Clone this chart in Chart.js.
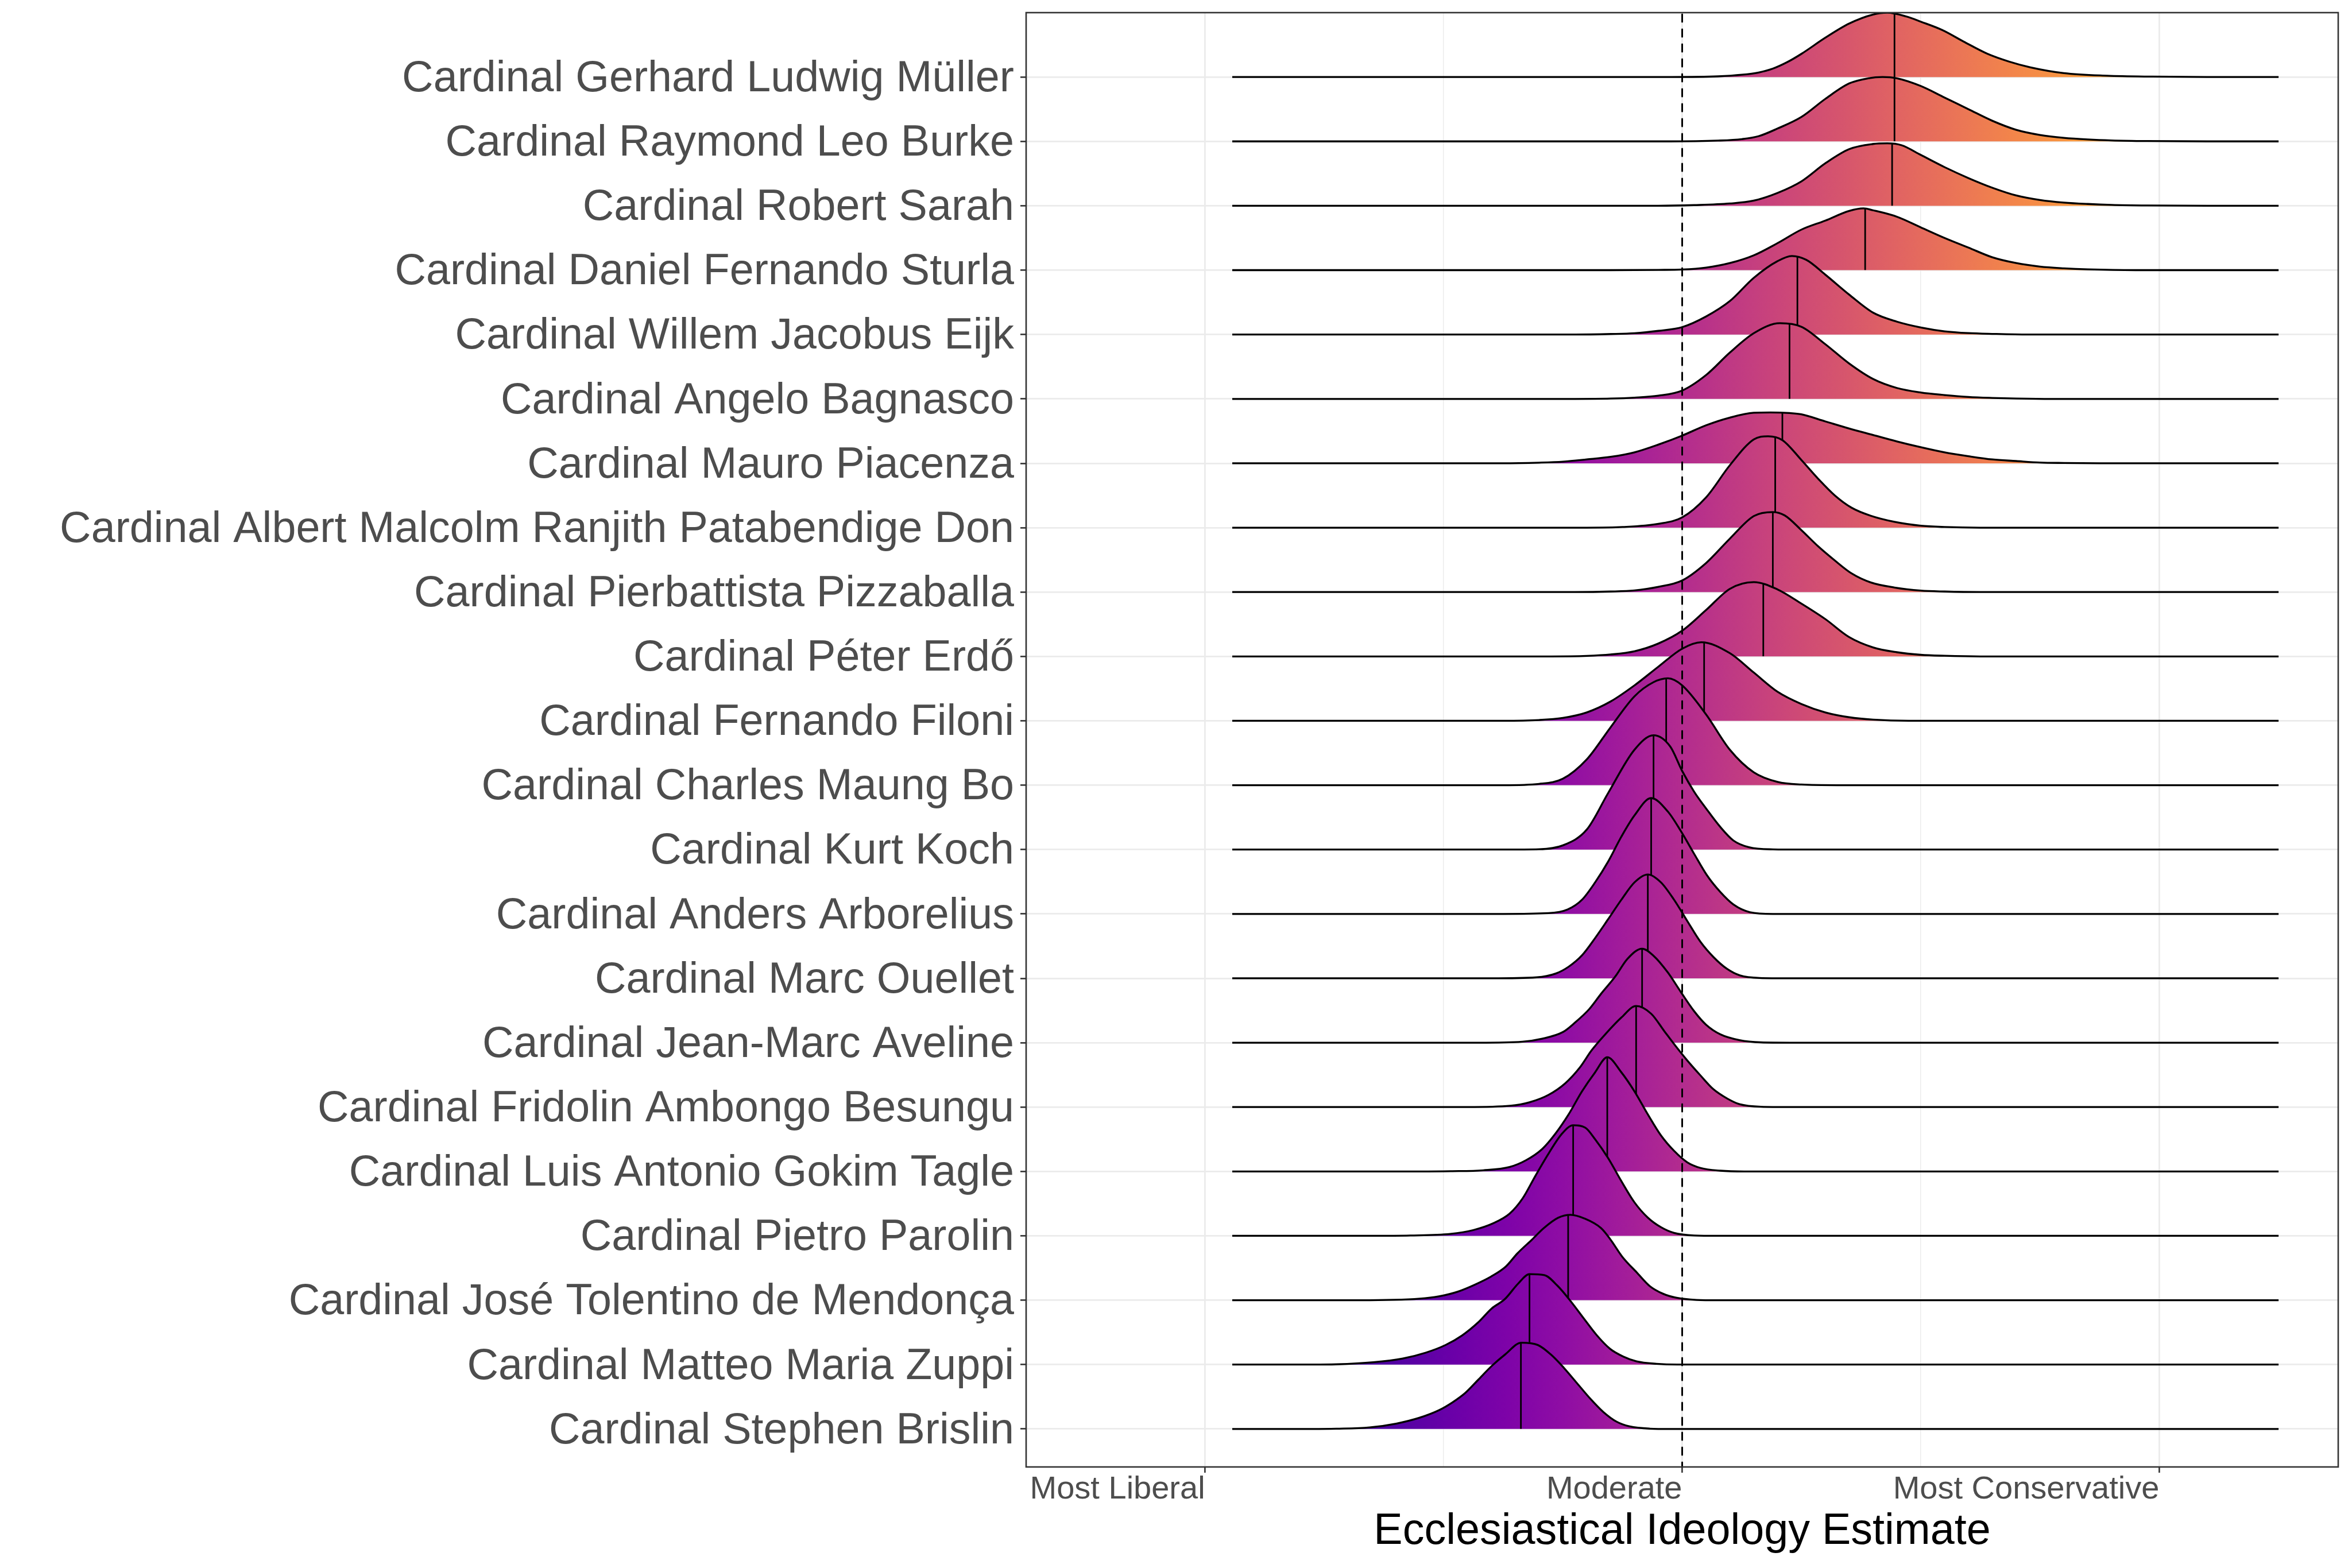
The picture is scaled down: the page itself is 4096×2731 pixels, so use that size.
<!DOCTYPE html>
<html><head><meta charset="utf-8">
<style>html,body{margin:0;padding:0;background:#fff;}#wrap{width:4096px;height:2731px;}</style>
<script src="https://cdn.jsdelivr.net/npm/chart.js@4.4.0/dist/chart.umd.min.js"></script>
</head><body><div id="wrap"><canvas id="c" width="4096" height="2731"></canvas></div>
<script>
// ---------- data (top row first) ----------
const cardinals = [
  'Cardinal Gerhard Ludwig Müller', 'Cardinal Raymond Leo Burke', 'Cardinal Robert Sarah',
  'Cardinal Daniel Fernando Sturla', 'Cardinal Willem Jacobus Eijk', 'Cardinal Angelo Bagnasco',
  'Cardinal Mauro Piacenza', 'Cardinal Albert Malcolm Ranjith Patabendige Don',
  'Cardinal Pierbattista Pizzaballa', 'Cardinal Péter Erdő', 'Cardinal Fernando Filoni',
  'Cardinal Charles Maung Bo', 'Cardinal Kurt Koch', 'Cardinal Anders Arborelius',
  'Cardinal Marc Ouellet', 'Cardinal Jean-Marc Aveline', 'Cardinal Fridolin Ambongo Besungu',
  'Cardinal Luis Antonio Gokim Tagle', 'Cardinal Pietro Parolin',
  'Cardinal José Tolentino de Mendonça', 'Cardinal Matteo Maria Zuppi', 'Cardinal Stephen Brislin'
];
const medians = [0.89, 0.89, 0.88, 0.767, 0.483, 0.45, 0.42, 0.39, 0.38, 0.34, 0.092,
  -0.067, -0.12, -0.13, -0.144, -0.168, -0.193, -0.314, -0.457, -0.478, -0.64, -0.676];
const densityRange = [-1.886, 2.5];
const xTickValues = [-2, 0, 2];
const xTickLabels = ['Most Liberal', 'Moderate', 'Most Conservative'];
const xMinorValues = [-1, 1];
const moderateValue = 0;
const xTitle = 'Ecclesiastical Ideology Estimate';

// density curves: [ideology, scaled density height]
const dMueller = [[-0.05,0],[0.15,0.01],[0.25,0.035],[0.32,0.07],[0.38,0.13],[0.44,0.23],[0.5,0.36],[0.6,0.61],[0.7,0.83],[0.8,0.97],[0.86,1.0],[0.94,0.94],[1.0,0.86],[1.09,0.73],[1.18,0.55],[1.28,0.36],[1.37,0.24],[1.46,0.15],[1.6,0.06],[1.78,0.02],[1.97,0.006],[2.2,0]];
const dBurke = [[-0.05,0],[0.15,0.012],[0.25,0.035],[0.32,0.08],[0.4,0.2],[0.5,0.38],[0.6,0.66],[0.7,0.9],[0.78,0.98],[0.84,1.0],[0.9,0.98],[1.0,0.86],[1.1,0.68],[1.2,0.5],[1.3,0.32],[1.4,0.18],[1.5,0.1],[1.6,0.055],[1.7,0.03],[1.8,0.015],[1.95,0.005],[2.2,0]];
const dSarah = [[-0.1,0],[0.05,0.01],[0.2,0.035],[0.3,0.08],[0.4,0.2],[0.5,0.38],[0.6,0.66],[0.7,0.88],[0.8,0.96],[0.86,0.97],[0.92,0.94],[1.0,0.79],[1.1,0.6],[1.2,0.43],[1.3,0.28],[1.4,0.16],[1.5,0.09],[1.6,0.05],[1.7,0.028],[1.8,0.014],[1.95,0.005],[2.2,0]];
const dSturla = [[-0.3,0],[-0.1,0.004],[0.0,0.01],[0.1,0.04],[0.2,0.11],[0.3,0.23],[0.4,0.42],[0.5,0.63],[0.6,0.77],[0.7,0.92],[0.76,0.96],[0.8,0.93],[0.9,0.83],[1.0,0.665],[1.1,0.5],[1.2,0.35],[1.3,0.2],[1.4,0.11],[1.5,0.055],[1.6,0.028],[1.7,0.012],[1.9,0]];
const dEijk = [[-0.45,0],[-0.3,0.008],[-0.2,0.02],[-0.1,0.057],[0.0,0.115],[0.1,0.28],[0.2,0.52],[0.3,0.88],[0.4,1.14],[0.46,1.22],[0.52,1.16],[0.6,0.93],[0.7,0.62],[0.8,0.34],[0.9,0.2],[1.0,0.11],[1.1,0.05],[1.2,0.022],[1.3,0.01],[1.45,0]];
const dBagnasco = [[-0.45,0],[-0.3,0.005],[-0.2,0.02],[-0.1,0.05],[0.0,0.13],[0.1,0.37],[0.2,0.72],[0.3,1.02],[0.41,1.176],[0.5,1.12],[0.6,0.85],[0.7,0.55],[0.8,0.31],[0.9,0.17],[1.0,0.1],[1.1,0.06],[1.2,0.03],[1.3,0.015],[1.4,0.006],[1.55,0]];
const dPiacenza = [[-0.75,0],[-0.6,0.01],[-0.5,0.025],[-0.4,0.06],[-0.3,0.1],[-0.2,0.17],[-0.1,0.29],[0.0,0.43],[0.1,0.59],[0.2,0.71],[0.3,0.785],[0.37,0.79],[0.45,0.78],[0.5,0.76],[0.6,0.65],[0.7,0.54],[0.8,0.44],[0.9,0.34],[1.0,0.25],[1.1,0.17],[1.2,0.11],[1.3,0.06],[1.4,0.035],[1.5,0.012],[1.6,0.005],[1.75,0]];
const dRanjith = [[-0.4,0],[-0.25,0.01],[-0.1,0.06],[0.0,0.16],[0.1,0.47],[0.2,0.97],[0.3,1.37],[0.36,1.42],[0.42,1.36],[0.5,1.05],[0.57,0.76],[0.64,0.5],[0.71,0.31],[0.79,0.185],[0.89,0.09],[1.0,0.03],[1.1,0.01],[1.25,0]];
const dPizzaballa = [[-0.45,0],[-0.3,0.008],[-0.2,0.025],[-0.1,0.08],[0.0,0.18],[0.1,0.45],[0.2,0.83],[0.3,1.18],[0.38,1.243],[0.43,1.19],[0.5,0.96],[0.57,0.71],[0.64,0.49],[0.71,0.29],[0.79,0.15],[0.89,0.07],[1.0,0.022],[1.1,0.008],[1.25,0]];
const dErdo = [[-0.55,0],[-0.4,0.008],[-0.3,0.03],[-0.2,0.08],[-0.1,0.2],[0.0,0.4],[0.1,0.72],[0.2,1.05],[0.3,1.154],[0.4,1.04],[0.5,0.82],[0.6,0.58],[0.7,0.3],[0.8,0.14],[0.9,0.065],[1.0,0.025],[1.1,0.01],[1.25,0]];
const dFiloni = [[-0.75,0],[-0.6,0.012],[-0.5,0.045],[-0.4,0.13],[-0.3,0.3],[-0.2,0.55],[-0.1,0.84],[0.0,1.12],[0.08,1.22],[0.2,1.05],[0.3,0.75],[0.4,0.45],[0.5,0.26],[0.6,0.13],[0.7,0.055],[0.8,0.018],[0.95,0]];
const dBo = [[-0.75,0],[-0.6,0.02],[-0.5,0.1],[-0.4,0.4],[-0.3,0.9],[-0.2,1.38],[-0.12,1.6],[-0.06,1.66],[0.0,1.55],[0.1,1.1],[0.2,0.55],[0.3,0.2],[0.4,0.05],[0.5,0.01],[0.65,0]];
const dKoch = [[-0.75,0],[-0.6,0.005],[-0.5,0.065],[-0.4,0.31],[-0.31,0.88],[-0.2,1.55],[-0.12,1.775],[-0.05,1.6],[0.0,1.22],[0.05,0.9],[0.1,0.64],[0.16,0.35],[0.215,0.14],[0.28,0.036],[0.38,0.003],[0.5,0]];
const dArborelius = [[-0.75,0],[-0.56,0.012],[-0.48,0.07],[-0.42,0.22],[-0.365,0.49],[-0.31,0.815],[-0.255,1.2],[-0.2,1.53],[-0.13,1.8],[-0.06,1.59],[-0.006,1.29],[0.05,0.935],[0.104,0.6],[0.16,0.34],[0.215,0.146],[0.284,0.027],[0.38,0]];
const dOuellet = [[-0.8,0],[-0.61,0.015],[-0.53,0.074],[-0.476,0.18],[-0.42,0.357],[-0.365,0.625],[-0.31,0.92],[-0.255,1.22],[-0.2,1.49],[-0.144,1.613],[-0.089,1.49],[-0.034,1.22],[0.021,0.893],[0.077,0.565],[0.132,0.327],[0.187,0.149],[0.242,0.045],[0.325,0.005],[0.45,0]];
const dAveline = [[-0.85,0],[-0.67,0.015],[-0.59,0.06],[-0.5,0.165],[-0.45,0.31],[-0.39,0.52],[-0.34,0.76],[-0.28,1.03],[-0.23,1.3],[-0.168,1.46],[-0.12,1.35],[-0.06,1.09],[-0.006,0.79],[0.05,0.49],[0.1,0.28],[0.16,0.13],[0.24,0.04],[0.33,0.005],[0.45,0]];
const dAmbongo = [[-0.9,0],[-0.72,0.02],[-0.64,0.074],[-0.56,0.19],[-0.49,0.37],[-0.43,0.61],[-0.38,0.88],[-0.32,1.14],[-0.255,1.39],[-0.193,1.57],[-0.13,1.45],[-0.075,1.18],[-0.03,0.96],[0.02,0.73],[0.077,0.49],[0.13,0.28],[0.19,0.13],[0.24,0.045],[0.33,0.005],[0.45,0]];
const dTagle = [[-1.1,0],[-0.97,0.004],[-0.834,0.018],[-0.724,0.068],[-0.655,0.173],[-0.586,0.351],[-0.531,0.589],[-0.476,0.887],[-0.42,1.244],[-0.365,1.54],[-0.314,1.774],[-0.255,1.54],[-0.2,1.244],[-0.144,0.887],[-0.089,0.56],[-0.034,0.32],[0.021,0.143],[0.077,0.054],[0.16,0.012],[0.26,0]];
const dParolin = [[-1.3,0],[-1.14,0.005],[-0.972,0.03],[-0.876,0.089],[-0.793,0.193],[-0.724,0.342],[-0.669,0.58],[-0.614,0.94],[-0.558,1.29],[-0.503,1.59],[-0.457,1.717],[-0.406,1.68],[-0.365,1.5],[-0.31,1.205],[-0.255,0.85],[-0.2,0.52],[-0.144,0.283],[-0.089,0.134],[-0.034,0.045],[0.05,0.005],[0.15,0]];
const dMendonca = [[-1.35,0],[-1.1,0.024],[-1.02,0.06],[-0.94,0.134],[-0.87,0.24],[-0.8,0.37],[-0.74,0.52],[-0.69,0.73],[-0.63,0.94],[-0.58,1.12],[-0.52,1.28],[-0.468,1.327],[-0.41,1.27],[-0.34,1.12],[-0.3,0.94],[-0.25,0.67],[-0.19,0.43],[-0.136,0.22],[-0.08,0.1],[-0.026,0.039],[0.06,0.005],[0.15,0]];
const dZuppi = [[-1.55,0],[-1.45,0.004],[-1.295,0.036],[-1.171,0.095],[-1.075,0.185],[-0.992,0.304],[-0.923,0.452],[-0.854,0.66],[-0.799,0.87],[-0.743,1.018],[-0.688,1.256],[-0.64,1.405],[-0.578,1.39],[-0.523,1.226],[-0.468,0.988],[-0.413,0.72],[-0.357,0.452],[-0.302,0.244],[-0.247,0.125],[-0.191,0.05],[-0.108,0.012],[-0.02,0]];
const dBrislin = [[-1.55,0],[-1.45,0.004],[-1.31,0.024],[-1.199,0.083],[-1.102,0.173],[-1.02,0.29],[-0.964,0.41],[-0.909,0.56],[-0.854,0.768],[-0.799,0.976],[-0.743,1.155],[-0.674,1.34],[-0.605,1.304],[-0.55,1.155],[-0.495,0.946],[-0.44,0.708],[-0.385,0.47],[-0.33,0.262],[-0.275,0.113],[-0.22,0.039],[-0.136,0.005],[-0.05,0]];

const densities = [dMueller, dBurke, dSarah, dSturla, dEijk, dBagnasco, dPiacenza, dRanjith,
  dPizzaballa, dErdo, dFiloni, dBo, dKoch, dArborelius, dOuellet, dAveline, dAmbongo, dTagle,
  dParolin, dMendonca, dZuppi, dBrislin];

// ---------- styling ----------
const FONT = "'Liberation Sans', Arial, Helvetica, sans-serif";
const plasma = ['#0d0887','#350498','#41049d','#5302a3','#6a00a8','#7e03a8','#8f0da4','#a11b9b',
  '#b12a90','#bf3984','#cc4778','#d6556d','#e16462','#ea7457','#f2844b','#f89540','#fca636',
  '#feb72d','#fcce25','#f7e225','#f0f921'];
const colorLo = -1.9, colorHi = 2.78;
let gradCache = null, gradKey = '';
function fillGradient(ctx) {
  const chart = ctx.chart;
  const xs = chart.scales && chart.scales.x;
  if (!chart.chartArea || !xs) return '#b12a90';
  const p0 = xs.getPixelForValue(colorLo), p1 = xs.getPixelForValue(colorHi);
  const key = p0 + '_' + p1;
  if (gradCache && gradKey === key) return gradCache;
  const g = chart.ctx.createLinearGradient(p0, 0, p1, 0);
  plasma.forEach((c, i) => g.addColorStop(i / (plasma.length - 1), c));
  gradCache = g; gradKey = key;
  return g;
}

const nRows = cardinals.length;
const datasets = [];
for (let i = nRows - 1; i >= 0; i--) {
  const row = nRows - i;
  const pts = [[densityRange[0], 0], ...densities[i], [densityRange[1], 0]];
  datasets.push({
    label: cardinals[i],
    data: pts.map(([x, h]) => ({x: x, y: row + h})),
    rowY: row,
    medianX: medians[i],
    fill: {value: row},
    backgroundColor: fillGradient,
    borderColor: '#000000',
    borderWidth: 3.3,
    borderJoinStyle: 'round',
    pointRadius: 0,
    pointHoverRadius: 0,
    cubicInterpolationMode: 'monotone'
  });
}

const overlay = {
  id: 'overlay',
  beforeDraw(chart) {
    const c = chart.ctx; c.save(); c.fillStyle = '#ffffff';
    c.fillRect(0, 0, chart.width, chart.height); c.restore();
  },
  afterDatasetDraw(chart, args) {
    const ds = chart.data.datasets[args.index];
    const line = args.meta.dataset, pts = args.meta.data;
    const {ctx, chartArea: a, scales: {x, y}} = chart;
    const base = y.getPixelForValue(ds.rowY);
    const mx = x.getPixelForValue(ds.medianX);
    ctx.save();
    ctx.beginPath(); ctx.rect(a.left, a.top, a.right - a.left, a.bottom - a.top); ctx.clip();
    ctx.beginPath();
    line.path(ctx);
    ctx.lineTo(pts[pts.length - 1].x, base);
    ctx.lineTo(pts[0].x, base);
    ctx.closePath();
    ctx.clip();
    ctx.beginPath(); ctx.moveTo(mx, base); ctx.lineTo(mx, a.top - 20);
    ctx.strokeStyle = '#000000'; ctx.lineWidth = 2.8; ctx.stroke();
    ctx.restore();
  },
  afterDatasetsDraw(chart) {
    const {ctx, chartArea: a, scales: {x}} = chart;
    const px = x.getPixelForValue(moderateValue);
    ctx.save();
    ctx.strokeStyle = '#000000'; ctx.lineWidth = 3; ctx.lineCap = 'round';
    ctx.setLineDash([13, 13]);
    ctx.beginPath(); ctx.moveTo(px, a.top + 3); ctx.lineTo(px, a.bottom); ctx.stroke();
    ctx.setLineDash([]); ctx.lineCap = 'butt';
    ctx.strokeStyle = '#333333'; ctx.lineWidth = 2.6;
    ctx.strokeRect(a.left, a.top, a.right - a.left, a.bottom - a.top);
    ctx.restore();
  }
};

new Chart(document.getElementById('c'), {
  type: 'line',
  data: {datasets: datasets},
  plugins: [overlay],
  options: {
    responsive: false,
    devicePixelRatio: 1,
    animation: false,
    events: [],
    layout: {padding: {top: 22, right: 24, bottom: 0, left: 0}},
    plugins: {legend: {display: false}, tooltip: {enabled: false}},
    scales: {
      x: {
        type: 'linear', min: -2.75, max: 2.75,
        afterBuildTicks: (s) => { s.ticks = [...xTickValues, ...xMinorValues].sort((a, b) => a - b).map(v => ({value: v})); },
        afterFit: (s) => { s.height = 176; s.paddingLeft = 0; s.paddingRight = 0; },
        border: {display: false},
        grid: {
          color: '#ebebeb',
          lineWidth: (c) => (c.tick && xTickValues.includes(c.tick.value)) ? 2.8 : 1.4,
          drawTicks: true, tickLength: 10, tickWidth: 2.6,
          tickColor: (c) => (c.tick && xTickValues.includes(c.tick.value)) ? '#333333' : 'rgba(0,0,0,0)'
        },
        ticks: {
          autoSkip: false, maxRotation: 0, minRotation: 0, align: 'end', padding: 2,
          color: '#4d4d4d', font: {family: FONT, size: 56, lineHeight: 1},
          callback: (v) => { const k = xTickValues.indexOf(v); return k >= 0 ? xTickLabels[k] : ''; }
        },
        title: {display: true, text: xTitle, color: '#000000',
          font: {family: FONT, size: 75.5, lineHeight: 1}, padding: {top: 0, bottom: 25}}
      },
      y: {
        type: 'linear', min: 0.41, max: 23.0,
        afterBuildTicks: (s) => { s.ticks = cardinals.map((_, i) => ({value: nRows - i})).reverse(); },
        afterFit: (s) => { s.width = 1787; s.paddingTop = 0; s.paddingBottom = 0; },
        border: {display: false},
        grid: {color: '#ebebeb', lineWidth: 2.8, drawTicks: true, tickLength: 10, tickWidth: 2.6, tickColor: '#333333'},
        ticks: {
          autoSkip: false, padding: 11, labelOffset: 4, color: '#4d4d4d',
          font: {family: FONT, size: 75.5, lineHeight: 1},
          callback: (v) => cardinals[nRows - v]
        }
      }
    }
  }
});
</script></body></html>
